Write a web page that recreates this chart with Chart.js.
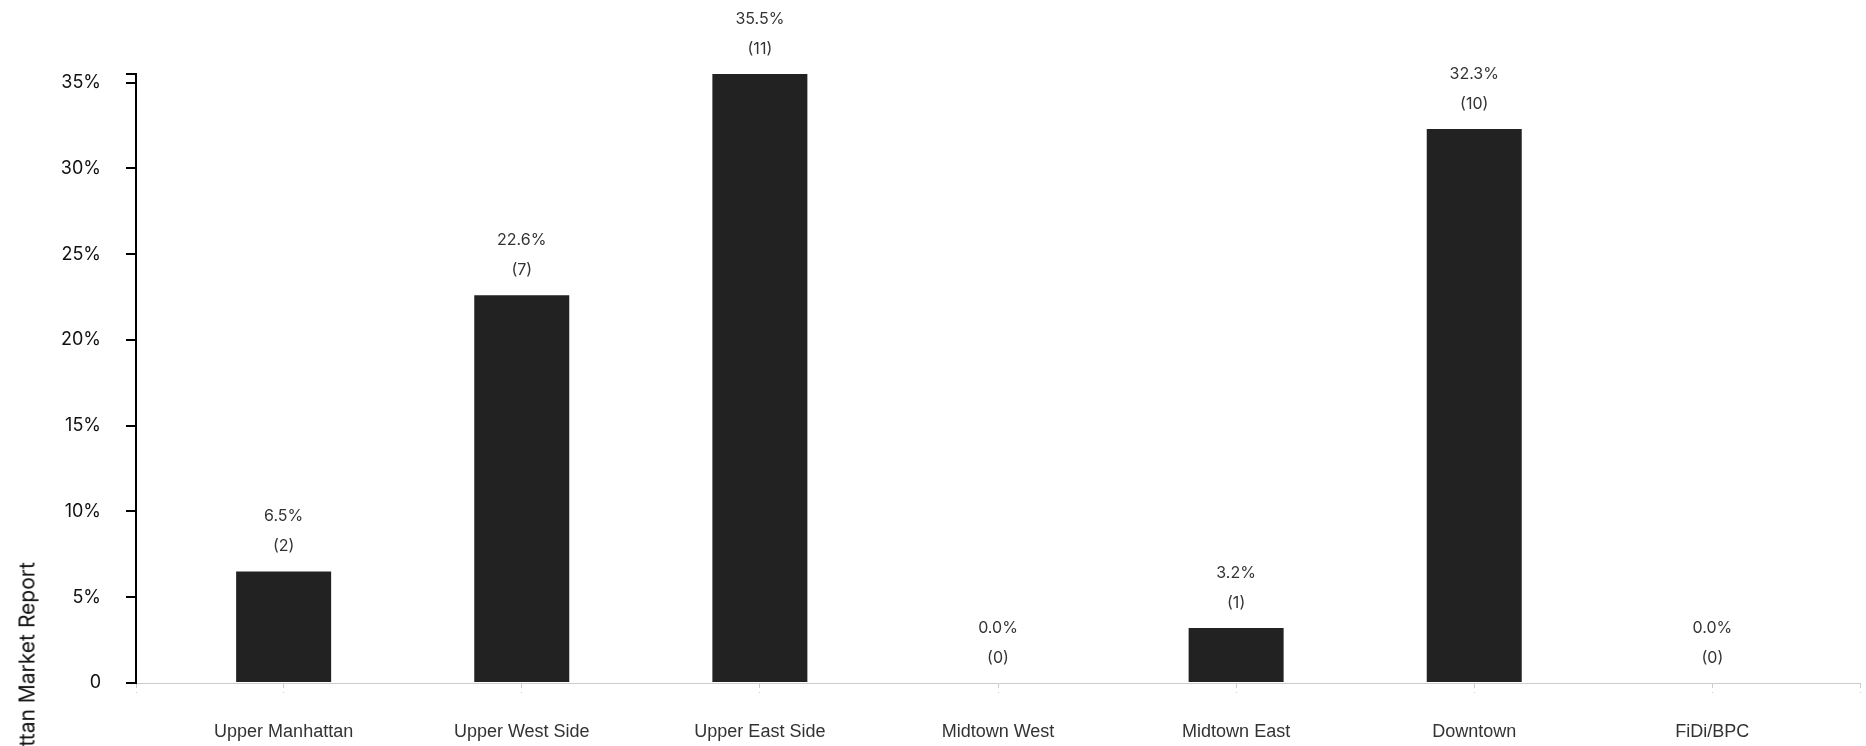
<!DOCTYPE html>
<html>
<head>
<meta charset="utf-8">
<script src="https://cdn.jsdelivr.net/npm/chart.js@4.4.1/dist/chart.umd.min.js"></script>
<style>
  body { margin: 0; background: #fff; }
  #wrap { position: relative; width: 1866px; height: 746px; overflow: hidden; }
  #ytitle {
    position: absolute; left: 27px; top: 688px;
    transform: translate(-50%, -50%) rotate(-90deg);
    font: 21px Inter, sans-serif; color: #111; white-space: nowrap;
  }
</style>
</head>
<body>
<div id="wrap">
  <canvas id="chart"></canvas>
  <div id="ytitle">Manhattan Market Report</div>
</div>
<script>
const areas = ['Upper Manhattan', 'Upper West Side', 'Upper East Side', 'Midtown West', 'Midtown East', 'Downtown', 'FiDi/BPC'];
const shares = [6.5, 22.6, 35.5, 0, 3.2, 32.3, 0];
const counts = [2, 7, 11, 0, 1, 10, 0];
const yTicks = [0, 5, 10, 15, 20, 25, 30, 35, 35.5];

const X_MIN = -0.62;
const X_MAX = 6.62;

// labels above each bar: percent and count
const barLabels = {
  id: 'barLabels',
  afterDatasetsDraw(chart) {
    const ctx = chart.ctx;
    const meta = chart.getDatasetMeta(0);
    ctx.save();
    ctx.font = '16px Inter, sans-serif';
    ctx.fillStyle = '#333';
    ctx.textAlign = 'center';
    ctx.textBaseline = 'middle';
    meta.data.forEach((bar, i) => {
      ctx.fillText(shares[i].toFixed(1) + '%', bar.x, bar.y - 55);
      ctx.fillText('(' + counts[i] + ')', bar.x, bar.y - 25);
    });
    ctx.restore();
  }
};

new Chart(document.getElementById('chart'), {
  type: 'bar',
  data: {
    datasets: [{
      data: shares.map((v, i) => ({ x: i, y: v })),
      backgroundColor: '#222',
      barThickness: 95,
      inflateAmount: 0
    }]
  },
  options: {
    responsive: true,
    maintainAspectRatio: false,
    animation: false,
    layout: { padding: { top: 74, right: 6, left: 0, bottom: 0 } },
    plugins: { legend: { display: false }, tooltip: { enabled: false } },
    scales: {
      x: {
        type: 'linear',
        offset: false,
        min: X_MIN,
        max: X_MAX,
        afterBuildTicks: s => {
          s.ticks = [X_MIN, ...areas.map((a, i) => i), X_MAX].map(v => ({ value: v }));
        },
        afterFit: s => {
          s.height = 63;
          s.paddingLeft = 0;
          s.paddingRight = 0;
        },
        ticks: {
          autoSkip: false,
          maxRotation: 0,
          padding: 28,
          color: '#333',
          font: { family: '"Liberation Sans", Arial, sans-serif', size: 18 },
          callback: v => Number.isInteger(v) ? areas[v] : ''
        },
        grid: {
          offset: false,
          drawOnChartArea: false,
          tickLength: 10,
          color: '#ccc',
          tickBorderDash: [4, 4]
        },
        border: { color: '#ccc', dash: [5, 4], width: 1 }
      },
      y: {
        min: 0,
        max: 35.5,
        afterBuildTicks: s => { s.ticks = yTicks.map(v => ({ value: v })); },
        afterFit: s => { s.width = 136; },
        ticks: {
          padding: 25,
          color: '#111',
          font: { family: 'Inter, sans-serif', size: 18 },
          callback: v => v === 0 ? '0' : (v % 5 === 0 ? v + '%' : '')
        },
        grid: {
          drawOnChartArea: false,
          tickLength: 10,
          color: '#000',
          lineWidth: 2
        },
        border: { color: '#000', width: 2 }
      }
    }
  },
  plugins: [barLabels]
});
</script>
</body>
</html>
